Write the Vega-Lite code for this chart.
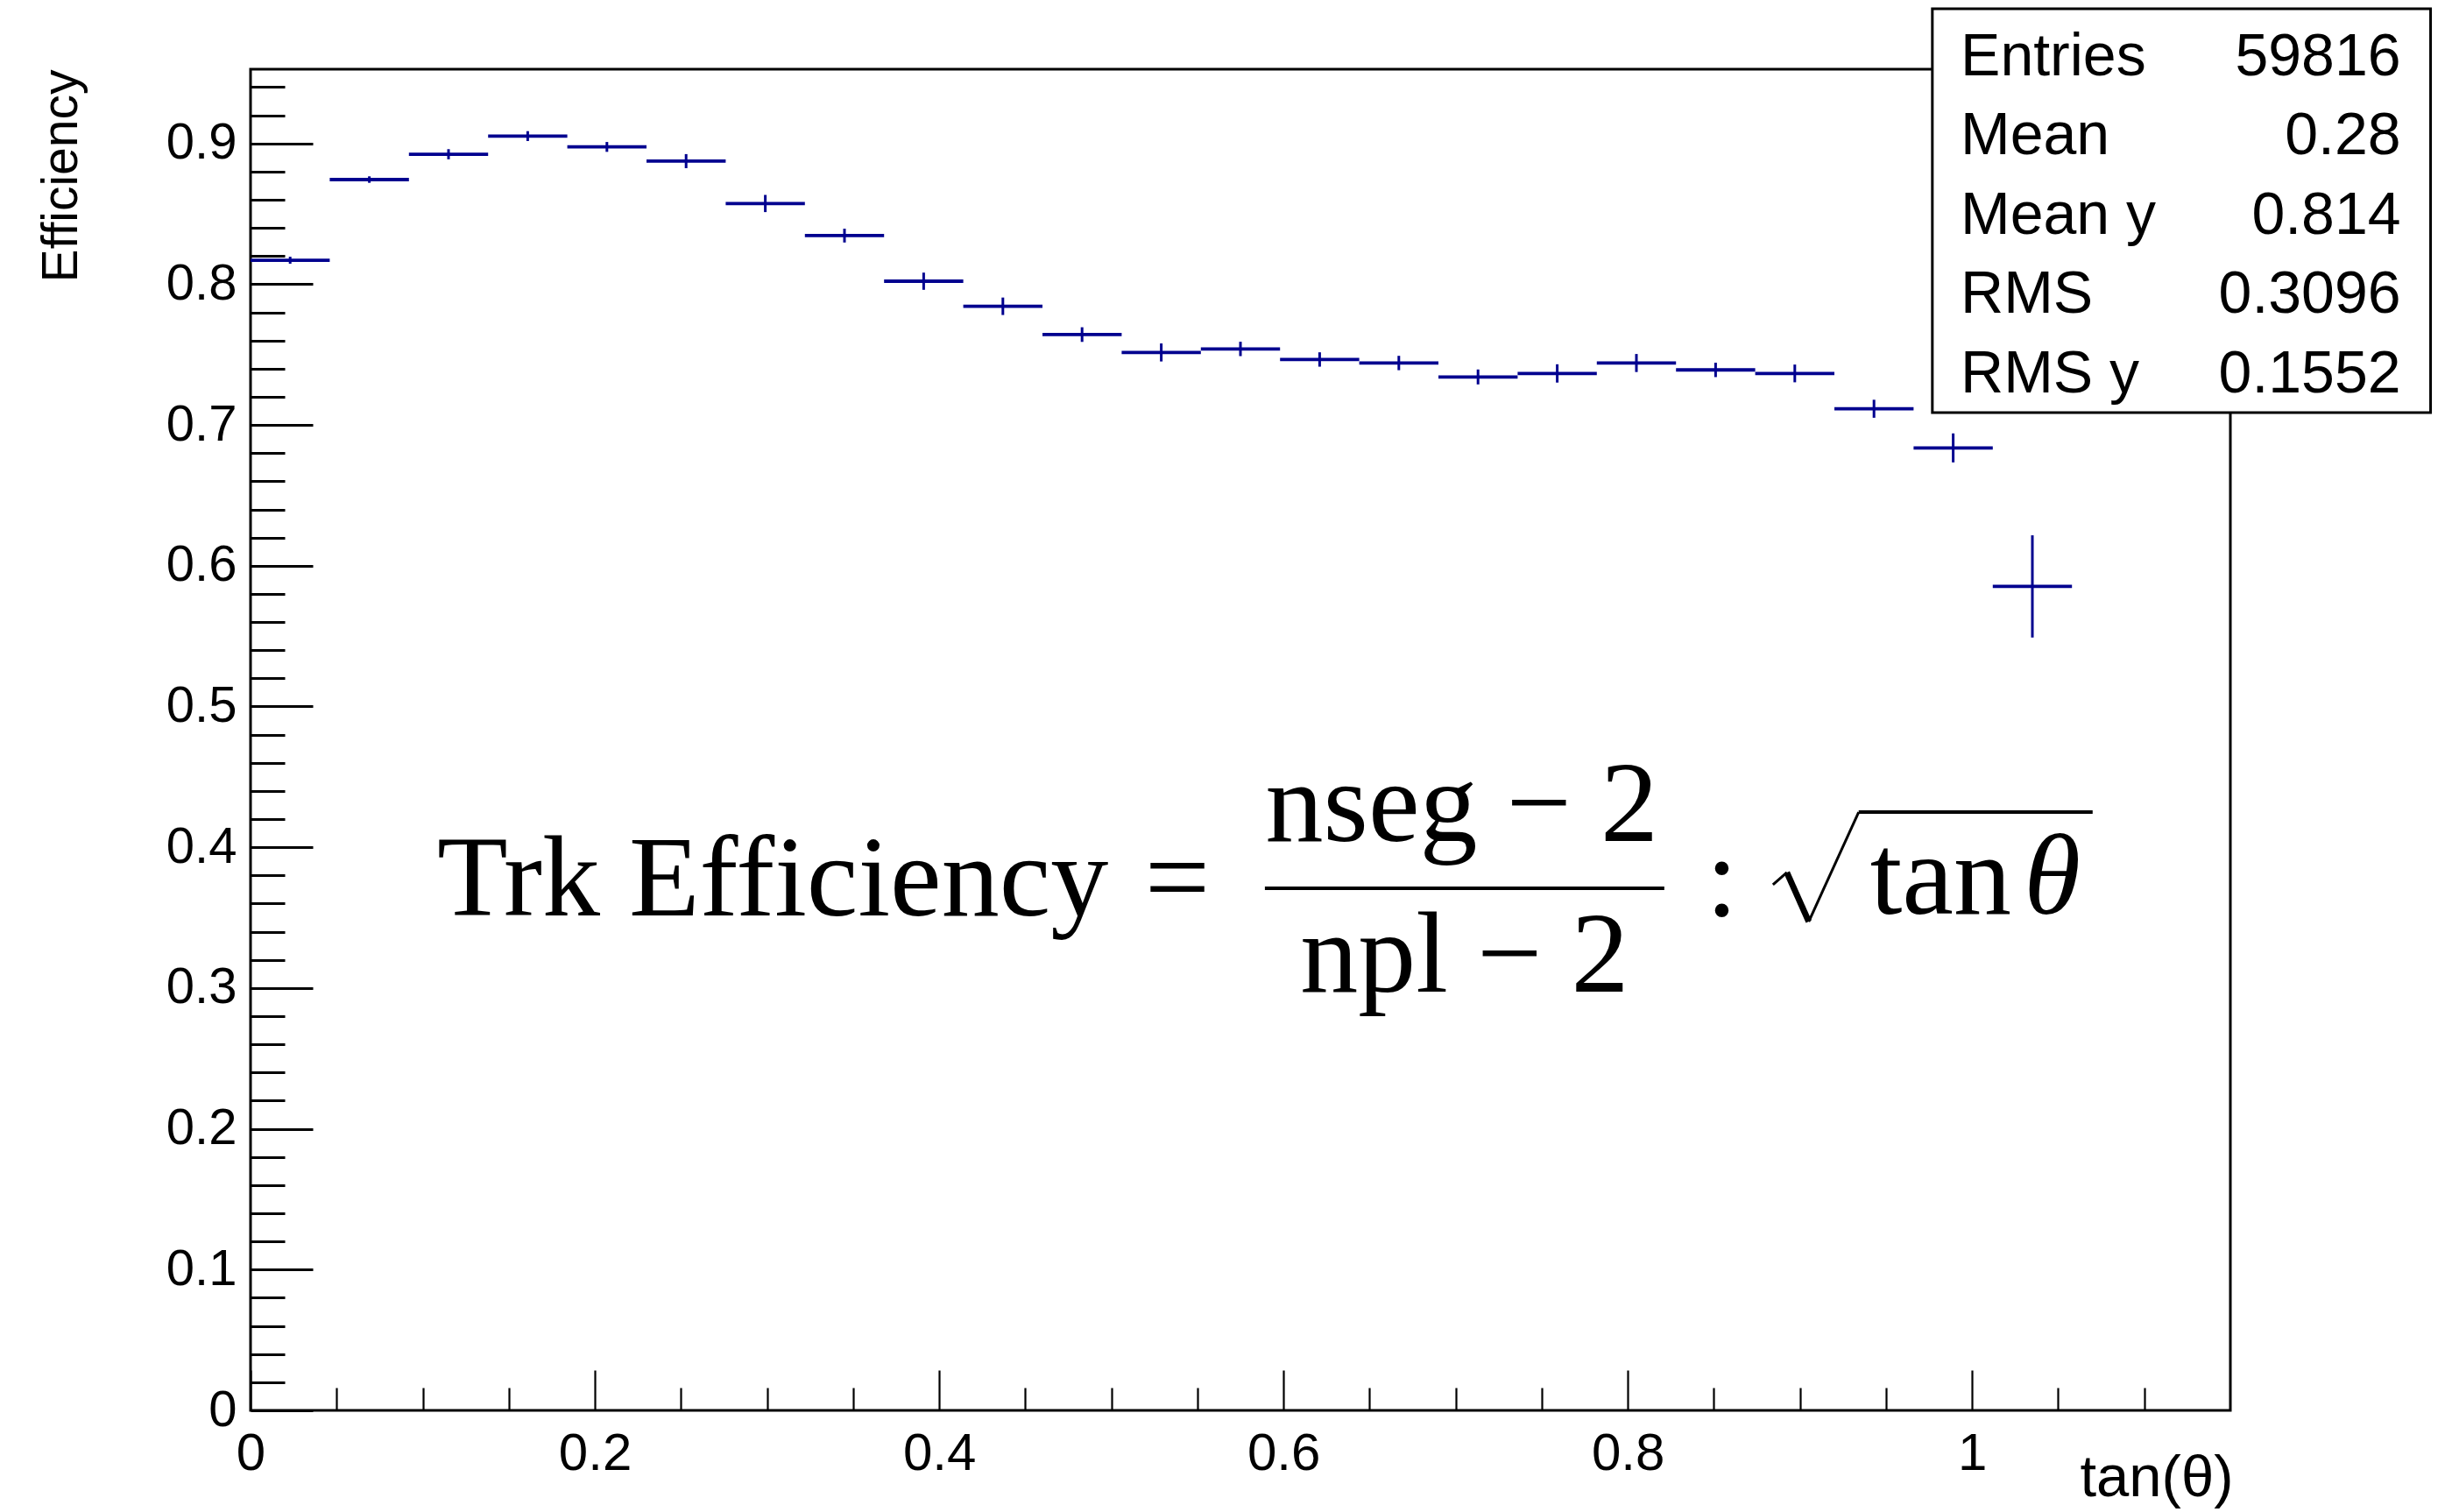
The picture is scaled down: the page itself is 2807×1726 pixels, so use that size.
{
  "$schema": "https://vega.github.io/schema/vega-lite/v6.json",
  "autosize": {"type": "none"},
  "padding": {"left": 286, "top": 79, "right": 261, "bottom": 116},
  "width": 2260,
  "height": 1531,
  "background": "white",
  "config": {"view": {"stroke": "black", "strokeWidth": 3}},
  "datasets": {
    "bins": [
      {"lo": 0.000, "hi": 0.046, "c": 0.023, "eff": 0.8170, "ylo": 0.8145, "yhi": 0.8195},
      {"lo": 0.046, "hi": 0.092, "c": 0.069, "eff": 0.8743, "ylo": 0.8720, "yhi": 0.8766},
      {"lo": 0.092, "hi": 0.138, "c": 0.115, "eff": 0.8923, "ylo": 0.8887, "yhi": 0.8959},
      {"lo": 0.138, "hi": 0.184, "c": 0.161, "eff": 0.9052, "ylo": 0.9017, "yhi": 0.9087},
      {"lo": 0.184, "hi": 0.230, "c": 0.207, "eff": 0.8975, "ylo": 0.8940, "yhi": 0.9010},
      {"lo": 0.230, "hi": 0.276, "c": 0.253, "eff": 0.8874, "ylo": 0.8824, "yhi": 0.8924},
      {"lo": 0.276, "hi": 0.322, "c": 0.299, "eff": 0.8573, "ylo": 0.8512, "yhi": 0.8634},
      {"lo": 0.322, "hi": 0.368, "c": 0.345, "eff": 0.8345, "ylo": 0.8296, "yhi": 0.8394},
      {"lo": 0.368, "hi": 0.414, "c": 0.391, "eff": 0.8021, "ylo": 0.7960, "yhi": 0.8082},
      {"lo": 0.414, "hi": 0.460, "c": 0.437, "eff": 0.7843, "ylo": 0.7781, "yhi": 0.7905},
      {"lo": 0.460, "hi": 0.506, "c": 0.483, "eff": 0.7642, "ylo": 0.7590, "yhi": 0.7694},
      {"lo": 0.506, "hi": 0.552, "c": 0.529, "eff": 0.7515, "ylo": 0.7451, "yhi": 0.7579},
      {"lo": 0.552, "hi": 0.598, "c": 0.575, "eff": 0.7540, "ylo": 0.7489, "yhi": 0.7591},
      {"lo": 0.598, "hi": 0.644, "c": 0.621, "eff": 0.7465, "ylo": 0.7414, "yhi": 0.7516},
      {"lo": 0.644, "hi": 0.690, "c": 0.667, "eff": 0.7440, "ylo": 0.7389, "yhi": 0.7491},
      {"lo": 0.690, "hi": 0.736, "c": 0.713, "eff": 0.7341, "ylo": 0.7288, "yhi": 0.7394},
      {"lo": 0.736, "hi": 0.782, "c": 0.759, "eff": 0.7366, "ylo": 0.7301, "yhi": 0.7431},
      {"lo": 0.782, "hi": 0.828, "c": 0.805, "eff": 0.7440, "ylo": 0.7376, "yhi": 0.7504},
      {"lo": 0.828, "hi": 0.874, "c": 0.851, "eff": 0.7391, "ylo": 0.7340, "yhi": 0.7442},
      {"lo": 0.874, "hi": 0.920, "c": 0.897, "eff": 0.7366, "ylo": 0.7303, "yhi": 0.7429},
      {"lo": 0.920, "hi": 0.966, "c": 0.943, "eff": 0.7115, "ylo": 0.7051, "yhi": 0.7179},
      {"lo": 0.966, "hi": 1.012, "c": 0.989, "eff": 0.6837, "ylo": 0.6734, "yhi": 0.6940},
      {"lo": 1.012, "hi": 1.058, "c": 1.035, "eff": 0.5853, "ylo": 0.5490, "yhi": 0.6216}
    ],
    "one": [{}]
  },
  "layer": [
    {
      "data": {"name": "bins"},
      "mark": {"type": "rule", "color": "#00008f", "strokeWidth": 3.8},
      "encoding": {
        "x": {
          "field": "lo", "type": "quantitative",
          "scale": {"domain": [0, 1.15], "nice": false, "zero": false},
          "axis": {
            "title": "tan(θ)",
            "values": [0, 0.05, 0.1, 0.15, 0.2, 0.25, 0.3, 0.35, 0.4, 0.45, 0.5, 0.55, 0.6, 0.65, 0.7, 0.75, 0.8, 0.85, 0.9, 0.95, 1, 1.05, 1.1],
            "tickCount": 200,
            "labelExpr": "abs(datum.value*5 - round(datum.value*5)) < 0.001 ? format(datum.value, '~g') : ''",
            "tickSize": {"condition": {"test": "abs(datum.value*5 - round(datum.value*5)) < 0.001", "value": -46}, "value": -26},
            "tickWidth": 2.2, "tickColor": "black",
            "domain": false, "grid": false,
            "labelPadding": 66, "labelBaseline": "top",
            "labelFont": "Liberation Sans", "labelFontSize": 60, "labelColor": "black",
            "labelOverlap": false, "labelFlush": false,
            "titleFont": "Liberation Sans",
            "titleFontSize": 67, "titleFontWeight": "normal", "titleColor": "black",
            "titleAlign": "right", "titleBaseline": "alphabetic", "titleX": 2263, "titleY": 97
          }
        },
        "x2": {"field": "hi"},
        "y": {
          "field": "eff", "type": "quantitative",
          "scale": {"domain": [0, 0.9527], "nice": false, "zero": false},
          "axis": {
            "title": "Efficiency",
            "values": [0, 0.02, 0.04, 0.06, 0.08, 0.1, 0.12, 0.14, 0.16, 0.18, 0.2, 0.22, 0.24, 0.26, 0.28, 0.3, 0.32, 0.34, 0.36, 0.38, 0.4, 0.42, 0.44, 0.46, 0.48, 0.5, 0.52, 0.54, 0.56, 0.58, 0.6, 0.62, 0.64, 0.66, 0.68, 0.7, 0.72, 0.74, 0.76, 0.78, 0.8, 0.82, 0.84, 0.86, 0.88, 0.9, 0.92, 0.94],
            "tickCount": 200,
            "labelExpr": "abs(datum.value*10 - round(datum.value*10)) < 0.001 ? format(datum.value, '~g') : ''",
            "tickSize": {"condition": {"test": "abs(datum.value*10 - round(datum.value*10)) < 0.001", "value": -71}, "value": -39},
            "tickWidth": 3, "tickColor": "black",
            "domain": false, "grid": false,
            "labelPadding": 87,
            "labelFont": "Liberation Sans", "labelFontSize": 58, "labelColor": "black",
            "labelOverlap": false, "labelFlush": false,
            "titleFont": "Liberation Sans",
            "titleFontSize": 57, "titleFontWeight": "normal", "titleColor": "black",
            "titleAngle": -90, "titleAlign": "right", "titleBaseline": "alphabetic", "titleX": -199, "titleY": 0
          }
        }
      }
    },
    {
      "data": {"name": "bins"},
      "mark": {"type": "rule", "color": "#00008f", "strokeWidth": 3},
      "encoding": {
        "x": {"field": "c", "type": "quantitative"},
        "y": {"field": "ylo", "type": "quantitative"},
        "y2": {"field": "yhi"}
      }
    },
    {
      "data": {"name": "one"},
      "mark": {"type": "rect", "fill": "white", "stroke": "black", "strokeWidth": 3},
      "encoding": {
        "x": {"datum": 0.9769, "type": "quantitative"},
        "x2": {"datum": 1.2663},
        "y": {"datum": 0.9956, "type": "quantitative"},
        "y2": {"datum": 0.7088}
      }
    },
    {
      "data": {"name": "one"},
      "mark": {"type": "text", "align": "left", "baseline": "alphabetic", "font": "Liberation Sans", "fontSize": 68, "lineHeight": 90.5, "color": "black"},
      "encoding": {
        "x": {"datum": 0.9933, "type": "quantitative"},
        "y": {"datum": 0.9484, "type": "quantitative"},
        "text": {"value": ["Entries", "Mean", "Mean y", "RMS", "RMS y"]}
      }
    },
    {
      "data": {"name": "one"},
      "mark": {"type": "text", "align": "right", "baseline": "alphabetic", "font": "Liberation Sans", "fontSize": 68, "lineHeight": 90.5, "color": "black"},
      "encoding": {
        "x": {"datum": 1.2490, "type": "quantitative"},
        "y": {"datum": 0.9484, "type": "quantitative"},
        "text": {"value": ["59816", "0.28", "0.814", "0.3096", "0.1552"]}
      }
    },
    {
      "data": {"name": "one"},
      "mark": {"type": "text", "align": "left", "baseline": "alphabetic", "font": "Liberation Serif", "fontSize": 132, "color": "black"},
      "encoding": {
        "x": {"datum": 0.1084, "type": "quantitative"},
        "y": {"datum": 0.3516, "type": "quantitative"},
        "text": {"value": "Trk Efficiency"}
      }
    },
    {
      "data": {"name": "one"},
      "mark": {"type": "text", "align": "center", "baseline": "alphabetic", "font": "Liberation Serif", "fontSize": 132, "color": "black"},
      "encoding": {
        "x": {"datum": 0.5383, "type": "quantitative"},
        "y": {"datum": 0.3516, "type": "quantitative"},
        "text": {"value": "="}
      }
    },
    {
      "data": {"name": "one"},
      "mark": {"type": "text", "align": "center", "baseline": "alphabetic", "font": "Liberation Serif", "fontSize": 132, "color": "black"},
      "encoding": {
        "x": {"datum": 0.7036, "type": "quantitative"},
        "y": {"datum": 0.4045, "type": "quantitative"},
        "text": {"value": "nseg − 2"}
      }
    },
    {
      "data": {"name": "one"},
      "mark": {"type": "text", "align": "center", "baseline": "alphabetic", "font": "Liberation Serif", "fontSize": 132, "color": "black"},
      "encoding": {
        "x": {"datum": 0.7052, "type": "quantitative"},
        "y": {"datum": 0.2976, "type": "quantitative"},
        "text": {"value": "npl − 2"}
      }
    },
    {
      "data": {"name": "one"},
      "mark": {"type": "rule", "color": "black", "strokeWidth": 4},
      "encoding": {
        "x": {"datum": 0.5892, "type": "quantitative"},
        "x2": {"datum": 0.8212},
        "y": {"datum": 0.3709, "type": "quantitative"}
      }
    },
    {
      "data": {"name": "one"},
      "mark": {"type": "text", "align": "center", "baseline": "alphabetic", "font": "Liberation Serif", "fontSize": 132, "color": "black"},
      "encoding": {
        "x": {"datum": 0.8547, "type": "quantitative"},
        "y": {"datum": 0.3516, "type": "quantitative"},
        "text": {"value": ":"}
      }
    },
    {
      "data": {"name": "one"},
      "mark": {"type": "rule", "color": "black", "strokeWidth": 3},
      "encoding": {
        "x": {"datum": 0.8843, "type": "quantitative"},
        "x2": {"datum": 0.8924},
        "y": {"datum": 0.3734, "type": "quantitative"},
        "y2": {"datum": 0.3821}
      }
    },
    {
      "data": {"name": "one"},
      "mark": {"type": "rule", "color": "black", "strokeWidth": 7},
      "encoding": {
        "x": {"datum": 0.8924, "type": "quantitative"},
        "x2": {"datum": 0.9051},
        "y": {"datum": 0.3821, "type": "quantitative"},
        "y2": {"datum": 0.3472}
      }
    },
    {
      "data": {"name": "one"},
      "mark": {"type": "rule", "color": "black", "strokeWidth": 3},
      "encoding": {
        "x": {"datum": 0.9051, "type": "quantitative"},
        "x2": {"datum": 0.9341},
        "y": {"datum": 0.3472, "type": "quantitative"},
        "y2": {"datum": 0.4250}
      }
    },
    {
      "data": {"name": "one"},
      "mark": {"type": "rule", "color": "black", "strokeWidth": 4},
      "encoding": {
        "x": {"datum": 0.9341, "type": "quantitative"},
        "x2": {"datum": 1.0700},
        "y": {"datum": 0.4250, "type": "quantitative"}
      }
    },
    {
      "data": {"name": "one"},
      "mark": {"type": "text", "align": "left", "baseline": "alphabetic", "font": "Liberation Serif", "fontSize": 132, "color": "black"},
      "encoding": {
        "x": {"datum": 0.9407, "type": "quantitative"},
        "y": {"datum": 0.3526, "type": "quantitative"},
        "text": {"value": "tan"}
      }
    },
    {
      "data": {"name": "one"},
      "mark": {"type": "text", "align": "left", "baseline": "alphabetic", "font": "Liberation Serif", "fontStyle": "italic", "fontSize": 132, "color": "black"},
      "encoding": {
        "x": {"datum": 1.0300, "type": "quantitative"},
        "y": {"datum": 0.3526, "type": "quantitative"},
        "text": {"value": "θ"}
      }
    }
  ]
}
